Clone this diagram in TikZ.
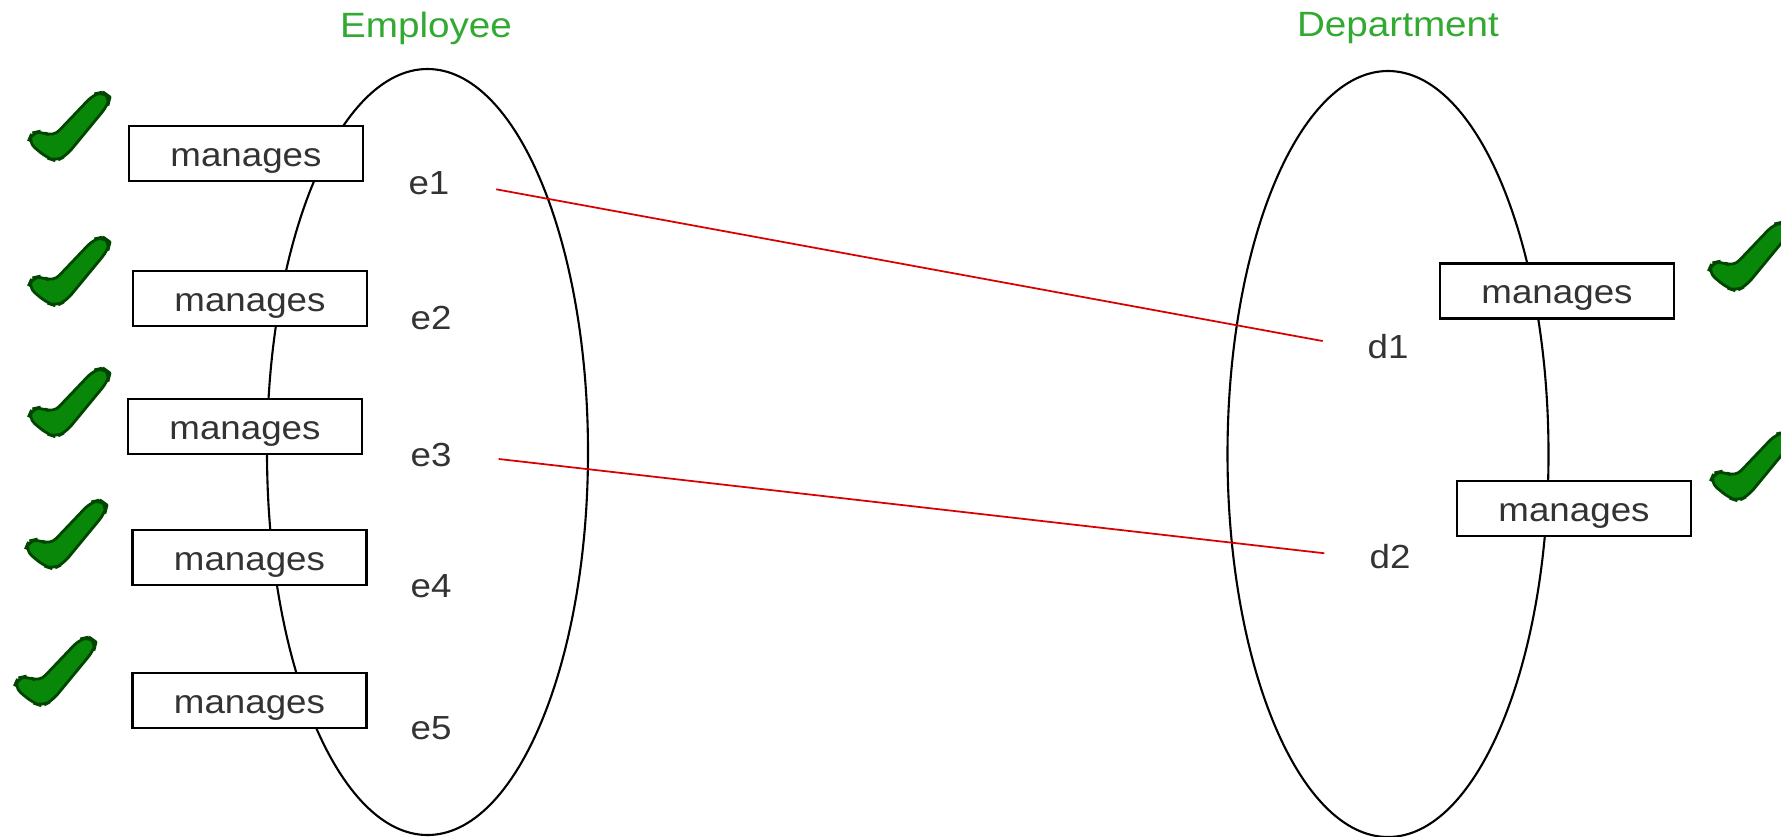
\documentclass[tikz,border=0pt]{standalone}
\usepackage{fontspec}
\setmainfont{Liberation Sans}
\newfontfamily\diagfont[FakeStretch=1.1]{Liberation Sans}
\usepackage{tikz}
\usetikzlibrary{shapes.geometric}

\definecolor{titlegreen}{RGB}{50,170,50}
\definecolor{tickgreen}{RGB}{8,135,8}
\definecolor{tickedge}{RGB}{0,70,0}

\begin{document}
\begin{tikzpicture}[
        setoval/.style={ellipse, draw=black, line width=0.6pt, inner sep=0pt, minimum width=3.21cm, minimum height=7.66cm},
        relbox/.style={rectangle, draw=black, fill=white, line width=0.7pt, minimum width=2.34cm, minimum height=0.55cm, inner sep=0pt, text height=0.72em, text depth=0pt, text=black!80, font=\diagfont\fontsize{9.5}{11}\selectfont},
        member/.style={text=black!80, font=\diagfont\fontsize{9.5}{11}\selectfont},
        settitle/.style={text=titlegreen, font=\diagfont\fontsize{10}{12}\selectfont},
        pairline/.style={draw=red!85!black, line width=0.5pt, shorten <=0.35cm, shorten >=0.33cm},
        checkmark/.pic={
            \filldraw[fill=tickgreen, draw=tickedge, line width=0.8pt, rounded corners=2.5pt]
                (0,-0.50) -- (0.04,-0.41) -- (0.13,-0.39) -- (0.25,-0.45) -- (0.66,-0.02) -- (0.75,0)
                -- (0.82,-0.05) -- (0.80,-0.13) -- (0.38,-0.64) -- (0.28,-0.69) -- (0.19,-0.66) -- cycle;
        }
    ]
        \useasboundingbox (0,0) rectangle (17.81,8.36);

        % --- EMPLOYEE ---
        \node (empset) at (4.275,3.84) [setoval] {};
        \node (emptitle) at (4.26,8.08) [settitle] {Employee};

        \node (e1) at (4.29,6.53) [member] {e1};
        \node (e2) at (4.31,5.18) [member] {e2};
        \node (e3) at (4.31,3.81) [member] {e3};
        \node (e4) at (4.31,2.50) [member] {e4};
        \node (e5) at (4.31,1.08) [member] {e5};

        \node (m1) at (2.46,6.825) [relbox] {manages};
        \node (m2) at (2.50,5.375) [relbox] {manages};
        \node (m3) at (2.45,4.095) [relbox] {manages};
        \node (m4) at (2.495,2.785) [relbox] {manages};
        \node (m5) at (2.495,1.355) [relbox] {manages};

        \pic at (0.28,7.44) {checkmark};
        \pic at (0.28,5.99) {checkmark};
        \pic at (0.28,4.68) {checkmark};
        \pic at (0.25,3.36) {checkmark};
        \pic at (0.14,1.99) {checkmark};

        % --- DEPARTMENT ---
        \node (deptset) at (13.88,3.82) [setoval] {};
        \node (depttitle) at (13.98,8.08) [settitle] {Department};

        \node (d1) at (13.88,4.89) [member] {d1};
        \node (d2) at (13.90,2.79) [member] {d2};

        \node (n1) at (15.57,5.45) [relbox] {manages};
        \node (n2) at (15.74,3.275) [relbox] {manages};

        \pic at (17.08,6.14) {checkmark};
        \pic at (17.10,4.04) {checkmark};

        % --- PAIRS ---
        \draw[pairline] (e1.east) -- (d1.west);
        \draw[pairline] (e3.east) -- (d2.west);
    \end{tikzpicture}
\end{document}
